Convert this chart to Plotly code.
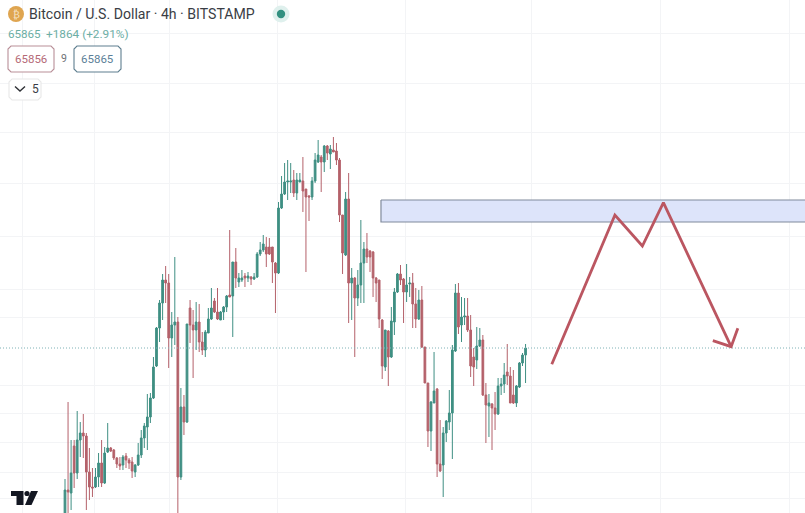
import plotly.graph_objects as go

opens = [
58985,60185,60065,61945,60865,62185,62465,62345,60905,60305,
60305,60705,61265,60465,61705,61865,61785,61465,61225,61185,
61545,61385,61305,60905,61185,61585,62265,62705,63105,63865,
65145,66665,67665,68585,68465,66265,66785,66905,60705,63505,
62905,67465,66785,66585,66905,66105,65785,66465,67025,67745,
67305,66985,67305,67505,67985,67945,69305,68505,68585,68745,
68665,68705,68625,68705,69625,69785,69905,69905,69905,69265,
68865,71465,72025,72505,72505,72585,72065,72505,72545,72225,
71945,71905,72545,73305,73505,73305,73945,73625,73785,73745,
73385,71185,69585,71825,68465,68665,67865,68385,69265,69825,
69745,69705,68665,68585,66985,65105,66545,65505,66905,68105,
68825,68625,68105,68425,68465,67625,67025,67785,65905,64465,
62545,63665,64225,61225,61185,62465,62905,63265,65745,68065,
66785,67105,67145,66585,65505,65385,65945,66185,63985,63545,
63625,63465,63225,64345,64425,64905,64745,63985,63665,64305,
65265,65585]
highs = [
60625,63705,62185,62185,63345,62905,63225,62465,61865,61065,
61065,61665,62185,61905,62865,61905,61825,61505,61505,61585,
61665,61465,61505,61225,62065,62585,62865,64025,64065,65505,
66705,67785,68825,69145,68825,67305,69505,67105,64265,63985,
66825,67785,67385,67705,67625,66505,66585,67465,68265,67865,
68265,67345,67545,67985,70585,69305,69865,68865,68985,68865,
68905,68745,68865,69705,70105,70385,70305,70265,69905,69305,
71705,72745,73265,73385,73265,72985,72865,72865,73505,72225,
71985,72705,73665,74185,73585,73985,73985,73985,74305,74065,
73465,71185,72105,72865,69065,68705,68985,70985,70105,70465,
69785,69745,68705,68585,67025,66585,66585,67505,68265,68865,
69185,68665,69225,68705,68865,68265,68185,68345,65905,64465,
63745,65705,64265,62985,62705,62985,64185,65985,68425,68465,
67905,67865,67865,67185,65865,66705,66665,66385,64465,64025,
63665,64105,64665,64665,65265,66025,65105,64985,64385,65305,
65665,66025]
lows = [
58785,59265,59385,60265,60625,61505,61465,59385,59785,59905,
60265,60305,60305,60425,61665,61705,61385,61065,60985,60985,
61065,61025,60665,60705,61145,61465,61865,61785,62865,63825,
65105,66105,66985,67665,65065,65505,65985,59265,60585,62385,
62865,66065,64665,65785,65705,65585,65505,66465,66985,67265,
66985,66985,66985,67305,67905,66305,68265,68305,68505,68305,
68505,68385,68585,68665,69545,69705,69105,69585,68465,67265,
68825,71425,71985,71785,72065,71905,71785,72505,71305,68905,
70945,71785,72465,73265,72105,72905,73385,73025,73705,73185,
70905,68825,69545,66865,66985,65505,67545,67665,67665,69265,
68905,67905,67705,66665,64625,64945,64345,65465,66385,68065,
68385,66865,67705,67905,66665,66665,66985,65865,64465,61905,
61745,63665,60705,60905,59905,62105,62585,61425,65705,66425,
66105,66785,66505,64705,64345,65025,65905,63945,62065,62305,
61785,62585,63185,63985,64065,64385,63665,63625,63505,64265,
65145,64465]
closes = [
60185,60105,60865,60865,62185,62465,62345,60905,60305,60265,
60705,61265,60465,61665,61865,61745,61465,61225,61145,61505,
61385,61265,60945,61185,61585,62265,62745,63105,63865,65105,
66665,67665,68585,68465,66265,66785,66905,60705,63505,62905,
66825,66785,66585,66905,66105,65785,66505,67025,67465,67305,
67025,67305,67505,67945,67905,69305,68665,68665,68665,68665,
68745,68625,68705,69625,69785,70025,69625,69625,69305,68865,
71465,72025,72505,72545,72545,72065,72585,72585,72145,71905,
71905,72545,73385,73585,73305,73945,73665,73825,73705,73385,
71185,69665,71825,68465,68665,67865,68385,69265,69825,69505,
69505,68665,68465,67025,65145,66585,65505,66945,68105,68825,
68585,68105,68385,68465,67625,67025,67785,65905,64465,62545,
63705,64145,61225,60945,62465,62945,63265,65785,68065,66705,
67105,67145,66585,65145,65105,65945,66185,63985,63585,63665,
63465,63225,64345,64425,64785,64745,63665,63665,64345,65265,
65585,65865]
bar_index = list(range(len(opens)))

LAST_PRICE = 65865
ZONE_X = [103.6, 247.0, 247.0, 103.6, 103.6]
ZONE_Y = [71785, 71785, 70905, 70905, 71785]
PATH_X = [159.6, 180.3, 189.3, 196.2, 218.4]
PATH_Y = [65213, 71185, 69945, 71677, 65917]
ARROW_X = [212.4, 218.4, 220.6]
ARROW_Y = [66157, 65917, 66653]
GRID_PRICES = [78465,76465,74505,72465,70345,68225,67105,64385,63265,62105,60905,59865]
GRID_BARS = [-13.8, 9.8, 34.4, 69.8, 111.5, 153.1, 195.4, 237.4]

W, H = 805, 513
X_RANGE = [-21.31, 242.62]
Y_RANGE = [59265, 79785]
GREEN, RED = "#3f8f83", "#b4616a"
DRAW = "#bb5661"

fig = go.Figure()
fig.add_trace(go.Scatter(x=ZONE_X, y=ZONE_Y, mode="lines", fill="toself", fillcolor="#dde4fa",
                         line=dict(color="#808a9c", width=1.2), showlegend=False, hoverinfo="skip"))
fig.add_trace(go.Scatter(x=X_RANGE, y=[LAST_PRICE, LAST_PRICE], mode="lines", showlegend=False,
                         hoverinfo="skip", line=dict(color="#7fb2b6", width=1, dash="1px,2px")))
fig.add_trace(go.Candlestick(
    x=bar_index, open=opens, high=highs, low=lows, close=closes,
    increasing=dict(line=dict(color=GREEN, width=1), fillcolor=GREEN),
    decreasing=dict(line=dict(color=RED, width=1), fillcolor=RED),
    whiskerwidth=0, showlegend=False, hoverinfo="skip"))
for xs, ys in ((PATH_X, PATH_Y), (ARROW_X, ARROW_Y)):
    fig.add_trace(go.Scatter(x=xs, y=ys, mode="lines", showlegend=False, hoverinfo="skip",
                             line=dict(color=DRAW, width=2.8, shape="linear")))

def px(x): return x / W
def py(y): return 1 - y / H

def path(points, close=True):
    s = "M " + " L ".join(f"{px(x):.5f},{py(y):.5f}" for x, y in points)
    return s + (" Z" if close else "")

def paper_path(points, fill=None, line=None, width=1, close=True):
    fig.add_shape(type="path", xref="paper", yref="paper", path=path(points, close),
                  fillcolor=fill if fill else "rgba(0,0,0,0)",
                  line=dict(color=line if line else "rgba(0,0,0,0)", width=width if line else 0))

def round_box(x0, y0, x1, y1, color, r=3):
    pts = [(x0 + r, y0), (x1 - r, y0), (x1, y0 + r), (x1, y1 - r),
           (x1 - r, y1), (x0 + r, y1), (x0, y1 - r), (x0, y0 + r)]
    paper_path(pts, fill="white", line=color, width=1.1)

def text(x, y, s, size, color, anchor="left", family="Roboto, sans-serif"):
    fig.add_annotation(x=px(x), y=py(y), xref="paper", yref="paper", text=s, showarrow=False,
                       xanchor=anchor, yanchor="middle", align=anchor,
                       font=dict(size=size, color=color, family=family))

def circle(cx, cy, r, color):
    fig.add_shape(type="circle", xref="paper", yref="paper", x0=px(cx - r), x1=px(cx + r),
                  y0=py(cy + r), y1=py(cy - r), fillcolor=color, line=dict(width=0))

circle(16, 14, 8, "#dfa550")
text(16, 14, "₿", 10, "#f6e3c4", "center", "DejaVu Sans")
text(27, 14, "Bitcoin / U.S. Dollar · 4h · BITSTAMP", 14.1, "#3a3d45")
circle(281, 14, 8.5, "#dff0ed")
circle(281, 14, 4.2, "#329080")
text(6, 34, "65865", 11.6, "#6caea5")
text(44, 34, "+1864 (+2.91%)", 11.8, "#6caea5")
round_box(8, 46, 54, 72, "#b98f98")
text(31, 59, "65856", 11.5, "#b56a77", "center")
text(64, 59, "9", 10.5, "#6f7278", "center")
round_box(74, 46, 121, 72, "#5f7f90")
text(97.5, 59, "65865", 11.5, "#5c7f98", "center")
round_box(9, 79, 41, 100, "#e8e8e8")
paper_path([(15, 86.5), (20, 91), (25, 86.5)], line="#2f3136", width=1.4, close=False)
text(35, 89, "5", 12, "#3a3d45", "center")

paper_path([(11, 491), (23.5, 491), (23.5, 505), (16.5, 505), (16.5, 496), (11, 496)], fill="#131722")
circle(27, 493.5, 2.6, "#131722")
paper_path([(31, 491), (38, 491), (31.5, 505), (25, 505)], fill="#131722")

fig.update_layout(
    width=W, height=H, margin=dict(l=0, r=0, t=0, b=0),
    paper_bgcolor="white", plot_bgcolor="white", showlegend=False,
    boxgap=0.25, boxgroupgap=0.25,
    xaxis=dict(range=X_RANGE, tickmode="array", tickvals=GRID_BARS, showticklabels=False,
               showgrid=True, gridcolor="#f3f4f6", gridwidth=1, zeroline=False, ticks="",
               rangeslider=dict(visible=False), showline=False, fixedrange=True),
    yaxis=dict(range=Y_RANGE, tickmode="array", tickvals=GRID_PRICES, showticklabels=False,
               showgrid=True, gridcolor="#f3f4f6", gridwidth=1, zeroline=False, ticks="",
               showline=False, fixedrange=True),
)
fig.write_html("out.html", config=dict(displayModeBar=False),
               post_script="document.body.style.margin='0';")
